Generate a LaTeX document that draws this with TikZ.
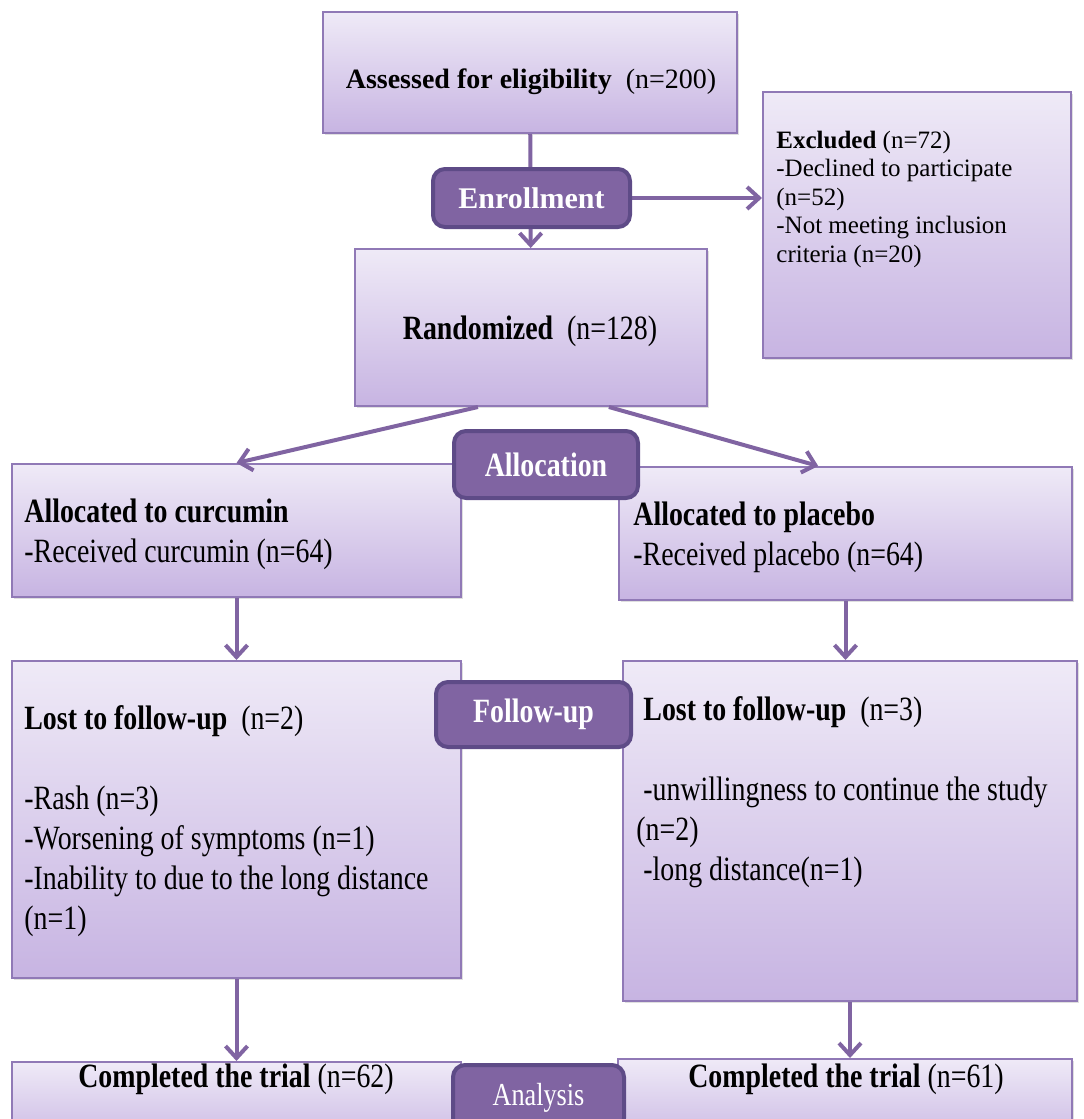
\documentclass[tikz,border=0pt]{standalone}
\usepackage{fontspec}
\setmainfont{Liberation Serif}
\newfontfamily\narrowfont[FakeStretch=0.82]{Liberation Serif}
\usetikzlibrary{arrows.meta,positioning,calc,shadows}
\definecolor{CONpurple}{HTML}{8064A2}
\definecolor{CONdark}{HTML}{5E4B87}
\definecolor{CONedge}{HTML}{9079B6}
\definecolor{CONtop}{HTML}{EFEAF7}
\definecolor{CONbot}{HTML}{C7B4E2}
\tikzset{
box/.style={draw=CONedge,line width=1pt,top color=CONtop,bottom color=CONbot,inner sep=0pt,
  drop shadow={shadow xshift=1.2pt,shadow yshift=-1.2pt,opacity=0.25}},
stage/.style={draw=CONdark,line width=2pt,fill=CONpurple,rounded corners=6pt,text=white,inner sep=0pt},
txt/.style={inner sep=0pt,align=left,font=\narrowfont\fontsize{17}{20}\selectfont},
flow/.style={draw=CONpurple,line width=2pt,-{Straight Barb[length=6pt,width=11pt]}}
}

\begin{document}
\begin{tikzpicture}[x=0.5pt,y=-0.5pt]
\useasboundingbox (0,0) rectangle (1083,1119);
\clip (0,0) rectangle (1083,1119);
\node[box,minimum width=207pt,minimum height=60.5pt] (assess) at (530,72.5) {};
\node[box,minimum width=154pt,minimum height=133pt] (excl) at (917,225) {};
\node[box,minimum width=176pt,minimum height=78.5pt] (random) at (531,327.5) {};
\node[box,minimum width=224.5pt,minimum height=66.5pt] (cur) at (236.5,530.5) {};
\node[box,minimum width=226.5pt,minimum height=66.5pt] (plac) at (845.5,533.5) {};
\node[box,minimum width=224.5pt,minimum height=158.5pt] (lostL) at (236.5,819.5) {};
\node[box,minimum width=227pt,minimum height=170pt] (lostR) at (850,831) {};
\node[box,minimum width=224.5pt,minimum height=44pt] (compL) at (236.5,1106) {};
\node[box,minimum width=227pt,minimum height=45.5pt] (compR) at (845,1104.5) {};

\node[txt,anchor=base,font=\fontsize{14}{17}\selectfont] (assesstxt) at (531,88) {\textbf{Assessed for eligibility}\ \ (n=200)};
\node[txt,anchor=north west,font=\fontsize{12.5}{14.25}\selectfont] (excltxt) at (776,130.7)
  {\textbf{Excluded} (n=72)\\-Declined to participate\\(n=52)\\-Not meeting inclusion\\criteria (n=20)};
\node[txt,anchor=base] (randtxt) at (530,339) {\textbf{Randomized}\ \ (n=128)};
\node[txt,anchor=north west] (curtxt) at (24,498.5) {\textbf{Allocated to curcumin}\\-Received curcumin (n=64)};
\node[txt,anchor=north west] (plactxt) at (633,501.5) {\textbf{Allocated to placebo}\\-Received placebo (n=64)};
\node[txt,anchor=north west] (lostLtxt) at (24,705.5)
  {\textbf{Lost to follow-up}\ \ (n=2)\\[20pt]-Rash (n=3)\\-Worsening of symptoms (n=1)\\-Inability to due to the long distance\\(n=1)};
\node[txt,anchor=north west] (lostRtxt) at (636,696.5)
  {\hspace*{3.5pt}\textbf{Lost to follow-up}\ \ (n=3)\\[20pt]\hspace*{3.5pt}-unwillingness to continue the study\\(n=2)\\\hspace*{3.5pt}-long distance(n=1)};
\node[txt,anchor=base] (compLtxt) at (236,1087) {\textbf{Completed the trial}\ (n=62)};
\node[txt,anchor=base] (compRtxt) at (846,1087) {\textbf{Completed the trial}\ (n=61)};

\draw[flow] (assess) -- (random);
\draw[flow] (531.5,198) -- (531.5,198 -| excl.west);
\draw[flow] ($(random.south west)!0.35!(random.south east)$) -- (cur.north);
\draw[flow] ($(random.south west)!0.72!(random.south east)$) -- ($(plac.north west)!0.44!(plac.north east)$);
\draw[flow] (cur.south) -- (lostL.north);
\draw[flow] (plac.south) -- (plac.south |- lostR.north);
\draw[flow] (lostL.south) -- (compL.north);
\draw[flow] (lostR.south) -- (lostR.south |- compR.north);

\node[stage,minimum width=98.5pt,minimum height=29pt,font=\bfseries\fontsize{15}{18}\selectfont] (enroll) at (531.5,198) {Enrollment};
\node[stage,minimum width=92pt,minimum height=33.5pt,font=\narrowfont\bfseries\fontsize{17}{20}\selectfont] (alloc) at (546,464.5) {Allocation};
\node[stage,minimum width=97.5pt,minimum height=32.5pt,font=\narrowfont\bfseries\fontsize{17}{20}\selectfont] (follow) at (533.5,714.5) {Follow-up};
\node[stage,minimum width=85.5pt,minimum height=32.5pt,font=\narrowfont\fontsize{16}{19}\selectfont] (analysis) at (538.5,1097.5) {Analysis};
\end{tikzpicture}
\end{document}
